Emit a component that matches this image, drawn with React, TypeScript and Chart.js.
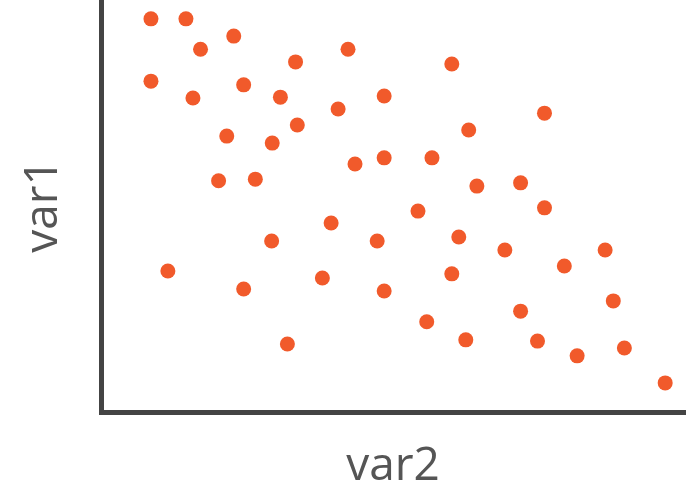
import React, { useEffect, useRef } from "react";
import { Chart, registerables } from "chart.js";

Chart.register(...registerables);

const var2Values: number[] = [
  8.4, 14.4, 16.9, 22.6, 33.2, 42.2, 60.0, 8.4, 15.6, 24.3, 30.6, 48.4,
  40.5, 75.9, 33.5, 21.4, 29.2, 62.9, 43.4, 48.4, 56.6, 20.0, 26.3, 64.3,
  71.8, 75.9, 54.2, 39.3, 29.1, 47.2, 61.2, 69.1, 86.3, 11.3, 79.3, 60.0,
  37.8, 24.3, 48.4, 87.7, 71.8, 55.7, 62.4, 74.7, 31.8, 89.6, 81.5, 96.6,
];

const var1Values: number[] = [
  95.4, 95.4, 88.0, 91.2, 84.9, 88.0, 84.4, 80.2, 76.1, 79.3, 76.3, 76.6,
  73.4, 72.4, 69.5, 66.8, 65.1, 68.3, 60.0, 61.5, 61.5, 55.9, 56.3, 54.6,
  55.4, 49.3, 48.5, 45.6, 41.2, 41.2, 42.2, 39.0, 39.0, 33.9, 35.1, 33.2,
  32.2, 29.5, 29.0, 26.6, 24.1, 21.5, 17.1, 16.8, 16.1, 15.1, 13.2, 6.6,
];

const xTitle = "var2";
const yTitle = "var1";

export default function App() {
  const canvasRef = useRef<HTMLCanvasElement | null>(null);

  useEffect(() => {
    if (!canvasRef.current) return;
    const points = var2Values.map((x, i) => ({ x, y: var1Values[i] }));
    const titleFont = { family: "'Open Sans', sans-serif", size: 46, weight: "normal" as const };
    const chart = new Chart(canvasRef.current, {
      type: "scatter",
      data: {
        datasets: [
          {
            data: points,
            backgroundColor: "#f15a2b",
            borderWidth: 0,
            pointRadius: 7.5,
            pointHoverRadius: 7.5,
          },
        ],
      },
      options: {
        animation: false,
        responsive: false,
        maintainAspectRatio: false,
        layout: { autoPadding: false, padding: { top: 0, right: 14, bottom: 0, left: 0 } },
        plugins: { legend: { display: false }, tooltip: { enabled: false } },
        scales: {
          x: {
            type: "linear",
            min: -0.17,
            max: 100,
            grid: { display: false },
            ticks: { display: false },
            border: { display: true, color: "#444444", width: 5 },
            title: {
              display: true,
              text: xTitle,
              color: "#555555",
              font: titleFont,
              padding: { top: 0, bottom: 1 },
            },
            afterFit: (scale: any) => {
              scale.height = 83;
            },
          },
          y: {
            type: "linear",
            min: -0.5,
            max: 100,
            grid: { display: false },
            ticks: { display: false },
            border: { display: true, color: "#444444", width: 5 },
            title: {
              display: true,
              text: yTitle,
              color: "#555555",
              font: titleFont,
              padding: { top: 16.6, bottom: 0 },
            },
            afterFit: (scale: any) => {
              scale.width = 101;
            },
          },
        },
      },
    });
    return () => chart.destroy();
  }, []);

  return (
    <div style={{ position: "fixed", left: 0, top: 0, width: 699, height: 495, background: "#ffffff" }}>
      <canvas ref={canvasRef} width={699} height={495} style={{ display: "block" }} />
    </div>
  );
}
